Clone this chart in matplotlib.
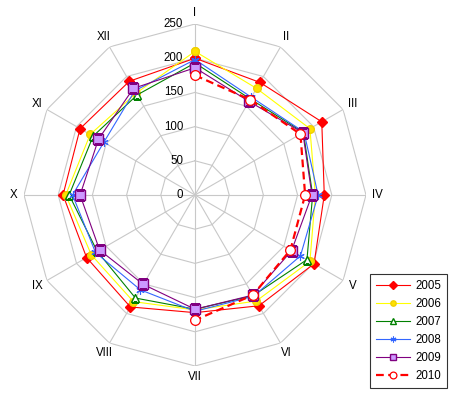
import numpy as np
import matplotlib
matplotlib.use("Agg")
import matplotlib.pyplot as plt

plt.rcParams['font.family'] = ['Liberation Sans', 'DejaVu Sans']

months = ["I", "II", "III", "IV", "V", "VI", "VII", "VIII", "IX", "X", "XI", "XII"]
r_ticks = [0, 50, 100, 150, 200, 250]

v2005 = [200, 190, 214, 189, 201, 187, 172, 189, 183, 193, 194, 192]
v2006 = [210, 180, 194, 176, 194, 179, 168, 180, 175, 189, 177, 172]
v2007 = [193, 162, 183, 172, 189, 170, 167, 174, 165, 184, 172, 169]
v2008 = [198, 165, 184, 180, 178, 171, 170, 160, 168, 179, 154, 176]
v2009 = [186, 158, 182, 171, 163, 169, 167, 151, 161, 168, 163, 180]
v2010 = [175, 161, 178, 161, 161, 169, 183]

W, H = 454, 393
fig = plt.figure(figsize=(W / 100, H / 100), dpi=100)
cx, cy, R = 195, 195, 171
ax = fig.add_axes([(cx - R) / W, (H - cy - R) / H, 2 * R / W, 2 * R / H], projection='polar')
ax.set_theta_zero_location('N')
ax.set_theta_direction(-1)
ax.set_ylim(0, 250)
ax.grid(False)
ax.spines['polar'].set_visible(False)
ax.set_xticks([])
ax.set_yticks([])
ax.patch.set_alpha(0)

n = len(months)
theta = np.arange(n) * 2 * np.pi / n
theta_c = np.append(theta, theta[0])

grid_col = '#C8C8C8'
for r in r_ticks[1:]:
    ax.plot(theta_c, [r] * (n + 1), color=grid_col, lw=0.8, zorder=1)
for t in theta:
    ax.plot([t, t], [0, 250], color=grid_col, lw=0.8, zorder=1)

for r in r_ticks:
    ax.annotate(str(r), xy=(0, r), xytext=(-8.5, 0), textcoords='offset points',
                ha='right', va='center', fontsize=8.3, color='black')
for t, m in zip(theta, months):
    ax.text(t, 266, m, ha='center', va='center', fontsize=8.3, color='black', clip_on=False)

def closed(v):
    return np.append(v, v[0])

ax.plot(theta_c, closed(v2005), color='#FF0000', lw=0.8, marker='D', ms=5.5,
        mfc='#FF0000', mec='#FF0000', label='2005', zorder=3)
ax.plot(theta_c, closed(v2006), color='#FFFF00', lw=0.8, marker='o', ms=5.5,
        mfc='#FFE000', mec='#F0D000', label='2006', zorder=3)
ax.plot(theta_c, closed(v2007), color='#008000', lw=0.8, marker='^', ms=5.5,
        mfc='white', mec='#008000', label='2007', zorder=3)
ax.plot(theta_c, closed(v2008), color='#3366FF', lw=0.8, marker=(6, 2, 0), ms=6,
        mec='#3366FF', mew=0.8, label='2008', zorder=3)
ax.plot(theta_c, closed(v2009), color='#800080', lw=0.8, marker='s', ms=6.5,
        mfc='#CC99FF', mec='#800080', label='2009', zorder=4)
ax.plot(theta[:len(v2010)], v2010, color='#FF0000', lw=1.6, ls=(0, (3.5, 2)),
        marker='o', ms=7, mfc='white', mec='#FF0000', mew=0.9, label='2010', zorder=5)

leg = fig.legend(loc='upper left', bbox_to_anchor=(370 / W, 1 - 274 / H),
                 borderaxespad=0, fontsize=8.3, frameon=True, fancybox=False,
                 edgecolor='black', handlelength=3.0, handletextpad=0.45,
                 labelspacing=0.53, borderpad=0.5, markerscale=0.7)
leg.get_frame().set_linewidth(0.8)

fig.savefig('out.png', dpi=100)
